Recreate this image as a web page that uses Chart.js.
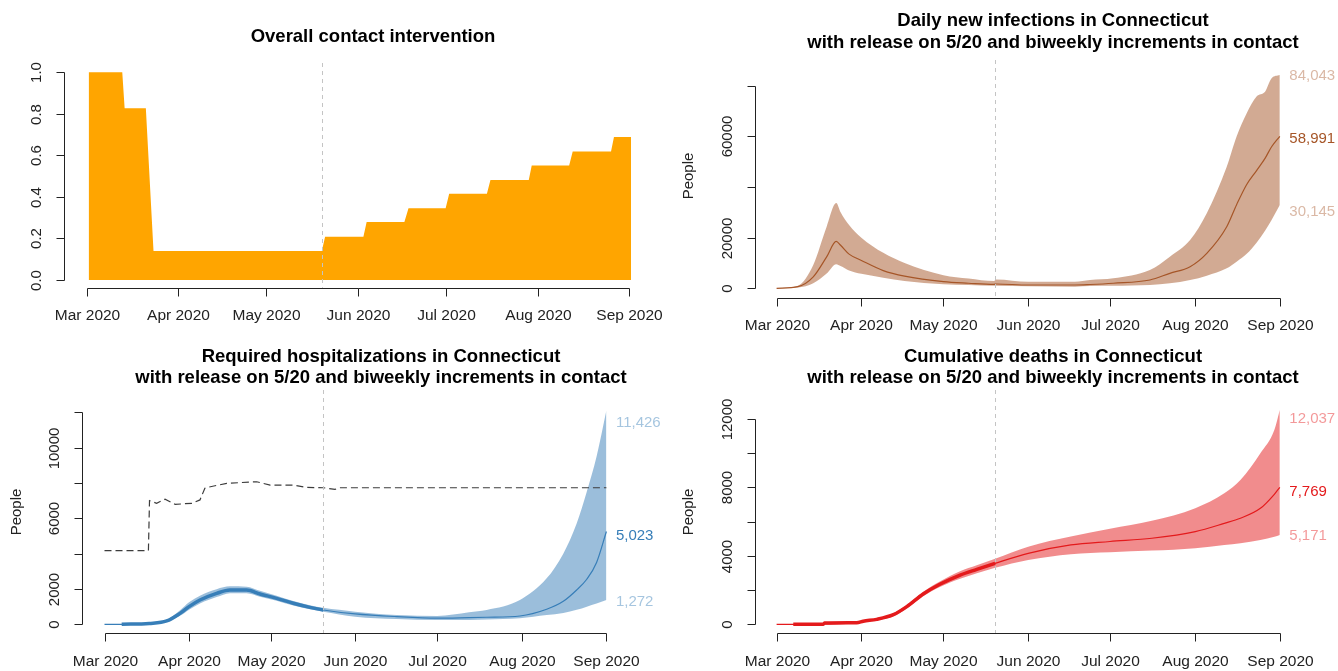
<!DOCTYPE html>
<html><head><meta charset="utf-8">
<script src="https://cdn.jsdelivr.net/npm/chart.js@4.4.1/dist/chart.umd.min.js"></script>
<style>
html,body{margin:0;padding:0;background:#fff;}
#wrap{position:relative;width:1338px;height:671px;overflow:hidden;background:#fff;}
canvas{position:absolute;left:0;top:0;}
</style></head><body>
<div id="wrap">
<canvas id="c1" width="1338" height="671"></canvas>
<canvas id="c2" width="1338" height="671"></canvas>
<canvas id="c3" width="1338" height="671"></canvas>
<canvas id="c4" width="1338" height="671"></canvas>
</div>
<script>
// ---------- shared axis data ----------
const monthTickDays = [0, 31, 61, 92, 122, 153, 184];           // days since 2020-03-01
const monthTickLabels = ["Mar 2020","Apr 2020","May 2020","Jun 2020","Jul 2020","Aug 2020","Sep 2020"];
const releaseDay = 80;                                           // 5/20

// ---------- panel 1: overall contact intervention ----------
const contactDays   = [0.7, 12.1, 12.9, 20.1, 22.7, 79.8, 80.9, 93.9, 95.0, 107.8, 109.2, 121.8, 123.0, 135.8, 137.0, 150.0, 151.0, 163.7, 164.9, 177.9, 178.9, 184.7];
const contactValues = [1.0, 1.0, 0.827, 0.827, 0.14, 0.14, 0.208, 0.208, 0.279, 0.279, 0.345, 0.345, 0.415, 0.415, 0.482, 0.482, 0.551, 0.551, 0.619, 0.619, 0.689, 0.689];
const contactTicks = [0, 0.2, 0.4, 0.6, 0.8, 1.0];
const contactTickLabels = ["0.0","0.2","0.4","0.6","0.8","1.0"];

// ---------- panel 2: daily new infections ----------
const infDays   = [0, 7.8, 13.4, 18.3, 21.8, 23.4, 26.5, 31, 39, 46.8, 61, 70.2, 79.5, 80.3, 92, 109.1, 114.6, 123.1, 136.5, 143.8, 151.2, 157.3, 164.6, 168.2, 171.9, 175.5, 178.6, 181, 184];
const infMedian = [0, 650, 4500, 12400, 18500, 17000, 13500, 11000, 7000, 4800, 2600, 2000, 1570, 1700, 1300, 1300, 1500, 2000, 3280, 5920, 8530, 13800, 24300, 33000, 41000, 46500, 51300, 55900, 60000];
const infUpper  = [0, 1000, 9200, 24300, 33700, 30000, 25000, 20000, 14000, 10000, 5200, 3900, 2900, 3500, 2600, 2600, 3280, 3950, 7230, 12480, 19070, 29600, 48000, 59900, 69100, 75700, 77600, 82900, 84200];
const infLower  = [0, 300, 2000, 5800, 9500, 8800, 7000, 5700, 4200, 2900, 1600, 1300, 1000, 1000, 800, 650, 900, 1000, 1300, 1970, 3280, 5000, 7900, 10500, 13600, 18000, 22700, 27000, 32900];
const infTicks = [0, 20000, 40000, 60000, 80000];
const infTickLabels = ["0","20000","","60000",""];
const infEndValues = [84043, 58991, 30145];

// ---------- panel 3: required hospitalizations ----------
const hospDays   = [0, 6.3, 16.4, 22.8, 27.7, 31, 35, 41.1, 46, 52.1, 57, 63.1, 69.2, 75.3, 80.2, 91.9, 107.1, 121.9, 133.7, 140.1, 152.3, 162.1, 168.2, 173.1, 176.8, 180.4, 184];
const hospMedian = [0, 0, 50, 190, 620, 1000, 1375, 1750, 1940, 1940, 1715, 1470, 1190, 960, 810, 585, 434, 350, 380, 400, 470, 850, 1300, 1940, 2550, 3500, 5250];
const hospUpper  = [0, 0, 70, 260, 800, 1250, 1620, 1990, 2150, 2130, 1900, 1620, 1320, 1080, 930, 717, 520, 470, 680, 810, 1375, 2600, 4000, 5700, 7500, 9500, 12100];
const hospLower  = [0, 0, 30, 130, 480, 830, 1180, 1540, 1760, 1760, 1560, 1330, 1060, 850, 710, 434, 300, 240, 250, 270, 340, 520, 640, 820, 1000, 1180, 1375];
const hospObsDays   = [6.3, 16.4, 22.8, 27.7, 31, 35, 41.1, 46, 52.1, 57, 63.1, 69.2, 75.3, 80.2];
const hospObsValues = [0, 50, 190, 620, 1000, 1375, 1750, 1940, 1940, 1715, 1470, 1190, 960, 810];
const capacityDays   = [0, 16.1, 16.5, 19.1, 22.2, 25.9, 32, 35, 36.8, 37.4, 44.8, 55.8, 60.7, 69.2, 74.1, 80.2, 84.5, 86.3, 184];
const capacityValues = [4170, 4170, 7000, 6850, 7080, 6790, 6850, 7040, 7700, 7740, 7980, 8070, 7880, 7880, 7750, 7730, 7640, 7730, 7730];
const hospTicks = [0, 2000, 4000, 6000, 8000, 10000, 12000];
const hospTickLabels = ["0","2000","","6000","","10000",""];
const hospEndValues = [11426, 5023, 1272];

// ---------- panel 4: cumulative deaths ----------
const deathDays   = [0, 6.1, 17.1, 29.3, 31.7, 36.6, 42.7, 47.6, 53.6, 59.7, 67.1, 73.2, 79.9, 92, 107.6, 121.9, 137.2, 153.1, 163.7, 169.6, 176.9, 182, 184];
const deathMedian = [0, 0, 20, 90, 180, 290, 560, 1030, 1770, 2340, 2880, 3215, 3565, 4150, 4640, 4840, 5030, 5420, 5900, 6200, 6780, 7600, 8010];
const deathUpper  = [0, 0, 30, 120, 220, 340, 650, 1130, 1900, 2500, 3100, 3450, 3830, 4540, 5130, 5580, 6050, 6790, 7660, 8440, 10000, 11360, 12530];
const deathLower  = [0, 0, 10, 60, 140, 240, 470, 930, 1640, 2180, 2660, 2980, 3300, 3760, 4100, 4210, 4310, 4450, 4640, 4740, 4930, 5120, 5220];
const deathObsDays   = [6.1, 17.1, 17.5, 29.3, 31.7, 36.6, 42.7, 47.6, 53.6, 59.7, 67.1, 73.2, 79.9];
const deathObsValues = [0, 0, 70, 90, 180, 290, 560, 1030, 1770, 2340, 2880, 3215, 3565];
const deathTicks = [0, 2000, 4000, 6000, 8000, 10000, 12000];
const deathTickLabels = ["0","","4000","","8000","","12000"];
const deathEndValues = [12037, 7769, 5171];

// ---------- layout / style ----------
const W = 1338, H = 671;
const FONT = '"Liberation Sans", Arial, Helvetica, sans-serif';
const pts = (xs, ys) => xs.map((x, i) => ({x: x, y: ys[i]}));

function decorPlugin(L) {
  return {
    id: 'rdecor',
    afterDatasetsDraw(chart) {
      const ctx = chart.ctx, xs = chart.scales.x;
      const x = Math.round(xs.getPixelForValue(releaseDay)) + 0.5;
      ctx.save();
      ctx.strokeStyle = '#c4c4c4';
      ctx.lineWidth = 1;
      ctx.setLineDash([4, 4]);
      ctx.beginPath(); ctx.moveTo(x, L.vTop); ctx.lineTo(x, L.xAxisY); ctx.stroke();
      ctx.restore();
    },
    afterDraw(chart) {
      const ctx = chart.ctx, xs = chart.scales.x, ys = chart.scales.y;
      ctx.save();
      ctx.strokeStyle = '#222'; ctx.fillStyle = '#222'; ctx.lineWidth = 1; ctx.setLineDash([]);
      // x axis
      const ay = Math.round(L.xAxisY) + 0.5;
      const xp = monthTickDays.map(d => Math.round(xs.getPixelForValue(d)) + 0.5);
      ctx.beginPath(); ctx.moveTo(xp[0], ay); ctx.lineTo(xp[xp.length - 1], ay);
      xp.forEach(p => { ctx.moveTo(p, ay); ctx.lineTo(p, ay + 8); });
      ctx.stroke();
      ctx.font = '15.5px ' + FONT; ctx.textAlign = 'center'; ctx.textBaseline = 'middle';
      xp.forEach((p, i) => ctx.fillText(monthTickLabels[i], p, L.xAxisY + 28.5));
      // y axis
      const ax = Math.round(L.yAxisX) + 0.5;
      const yp = L.yTicks.map(v => Math.round(ys.getPixelForValue(v)) + 0.5);
      ctx.beginPath(); ctx.moveTo(ax, yp[0]); ctx.lineTo(ax, yp[yp.length - 1]);
      yp.forEach(p => { ctx.moveTo(ax, p); ctx.lineTo(ax - 8, p); });
      ctx.stroke();
      ctx.font = '15px ' + FONT;
      yp.forEach((p, i) => {
        if (!L.yTickLabels[i]) return;
        ctx.save(); ctx.translate(L.yAxisX - 27, p); ctx.rotate(-Math.PI / 2);
        ctx.fillText(L.yTickLabels[i], 0, 0); ctx.restore();
      });
      // People label
      if (L.peopleX) {
        ctx.save(); ctx.translate(L.peopleX, L.peopleY); ctx.rotate(-Math.PI / 2);
        ctx.font = '15px ' + FONT; ctx.fillText('People', 0, 0); ctx.restore();
      }
      // title
      ctx.fillStyle = '#000';
      ctx.font = 'bold 18.5px ' + FONT;
      L.title.forEach((t, i) => ctx.fillText(t, L.titleX, L.titleY[i]));
      // end labels
      if (L.endValues) {
        ctx.font = '15px ' + FONT; ctx.textAlign = 'left';
        const ex = xs.getPixelForValue(184) + 9.5;
        L.endValues.forEach((v, i) => {
          ctx.fillStyle = L.endColors[i];
          ctx.fillText(v.toLocaleString('en-US'), ex, ys.getPixelForValue(v));
        });
      }
      ctx.restore();
    }
  };
}

function makeChart(id, L, datasets) {
  const kx = (L.x1 - L.x0) / 184;
  const xmin = -10, xmax = 196;
  const left = L.x0 + kx * xmin, right = L.x0 + kx * xmax;
  const ky = (L.y0 - L.y1) / (L.yv1 - L.yv0);
  const range = L.yv1 - L.yv0;
  const ymin = L.yv0 - 0.05 * range, ymax = L.yv1 + 0.2 * range;
  const top = L.y0 - (ymax - L.yv0) * ky, bottom = L.y0 - (ymin - L.yv0) * ky;
  return new Chart(document.getElementById(id), {
    type: 'line',
    data: { datasets: datasets },
    options: {
      responsive: false, animation: false, devicePixelRatio: 1,
      layout: { padding: { left: left, right: W - right, top: top, bottom: H - bottom } },
      scales: {
        x: { type: 'linear', min: xmin, max: xmax, display: false },
        y: { type: 'linear', min: ymin, max: ymax, display: false }
      },
      plugins: { legend: { display: false }, tooltip: { enabled: false }, title: { display: false } },
      elements: { point: { radius: 0 } }
    },
    plugins: [decorPlugin(L)]
  });
}

const none = 'rgba(0,0,0,0)';
function bandSets(days, up, lo, fillColor) {
  return [
    { data: pts(days, up), borderColor: none, borderWidth: 0, backgroundColor: fillColor, fill: '+1', pointRadius: 0, cubicInterpolationMode: 'monotone', order: 10, clip: false },
    { data: pts(days, lo), borderColor: none, borderWidth: 0, fill: false, pointRadius: 0, cubicInterpolationMode: 'monotone', order: 11, clip: false }
  ];
}

// Panel 1
makeChart('c1', {
  x0: 86.6, x1: 629, y0: 280, yv0: 0, y1: 72.3, yv1: 1,
  yAxisX: 64, xAxisY: 287.7, vTop: 63,
  yTicks: contactTicks, yTickLabels: contactTickLabels,
  title: ["Overall contact intervention"], titleX: 373, titleY: [36.7]
}, [
  { data: pts(contactDays, contactValues), borderColor: none, borderWidth: 0, backgroundColor: '#FFA500', fill: 'origin', pointRadius: 0, tension: 0, clip: false }
]);

// Panel 2
const brown = '#A65628';
makeChart('c2', {
  x0: 776.6, x1: 1279.8, y0: 288.3, yv0: 0, y1: 85.7, yv1: 80000,
  yAxisX: 754.6, xAxisY: 297.7, vTop: 60,
  yTicks: infTicks, yTickLabels: infTickLabels,
  peopleX: 689, peopleY: 176,
  title: ["Daily new infections in Connecticut", "with release on 5/20 and biweekly increments in contact"], titleX: 1053, titleY: [20.7, 42.7],
  endValues: infEndValues, endColors: ['rgba(166,86,40,0.42)', brown, 'rgba(166,86,40,0.42)']
}, bandSets(infDays, infUpper, infLower, 'rgba(166,86,40,0.5)').concat([
  { data: pts(infDays, infMedian), borderColor: brown, borderWidth: 1.2, fill: false, pointRadius: 0, cubicInterpolationMode: 'monotone', order: 2, clip: false }
]));

// Panel 3
const blue = '#377EB8';
makeChart('c3', {
  x0: 104.5, x1: 606.4, y0: 624.3, yv0: 0, y1: 412.3, yv1: 12000,
  yAxisX: 81.9, xAxisY: 633.3, vTop: 390,
  yTicks: hospTicks, yTickLabels: hospTickLabels,
  peopleX: 17, peopleY: 512,
  title: ["Required hospitalizations in Connecticut", "with release on 5/20 and biweekly increments in contact"], titleX: 381, titleY: [356.7, 378.3],
  endValues: hospEndValues, endColors: ['rgba(55,126,184,0.45)', blue, 'rgba(55,126,184,0.45)']
}, bandSets(hospDays, hospUpper, hospLower, 'rgba(55,126,184,0.5)').concat([
  { data: pts(capacityDays, capacityValues), borderColor: '#3c3c3c', borderWidth: 1.2, borderDash: [7, 4], fill: false, pointRadius: 0, tension: 0, order: 5, clip: false },
  { data: pts(hospDays, hospMedian), borderColor: blue, borderWidth: 1.2, fill: false, pointRadius: 0, cubicInterpolationMode: 'monotone', order: 2, clip: false },
  { data: pts(hospObsDays, hospObsValues), borderColor: blue, borderWidth: 3.5, fill: false, pointRadius: 0, cubicInterpolationMode: 'monotone', order: 1, clip: false }
]));

// Panel 4
const red = '#E41A1C';
makeChart('c4', {
  x0: 776.6, x1: 1279.8, y0: 624.3, yv0: 0, y1: 419, yv1: 12000,
  yAxisX: 754.6, xAxisY: 633.3, vTop: 390,
  yTicks: deathTicks, yTickLabels: deathTickLabels,
  peopleX: 689, peopleY: 512,
  title: ["Cumulative deaths in Connecticut", "with release on 5/20 and biweekly increments in contact"], titleX: 1053, titleY: [357, 378.3],
  endValues: deathEndValues, endColors: ['rgba(228,26,28,0.45)', red, 'rgba(228,26,28,0.45)']
}, bandSets(deathDays, deathUpper, deathLower, 'rgba(228,26,28,0.5)').concat([
  { data: pts(deathDays, deathMedian), borderColor: red, borderWidth: 1.2, fill: false, pointRadius: 0, cubicInterpolationMode: 'monotone', order: 2, clip: false },
  { data: pts(deathObsDays, deathObsValues), borderColor: red, borderWidth: 3.5, fill: false, pointRadius: 0, cubicInterpolationMode: 'monotone', order: 1, clip: false }
]));
</script>
</body></html>
